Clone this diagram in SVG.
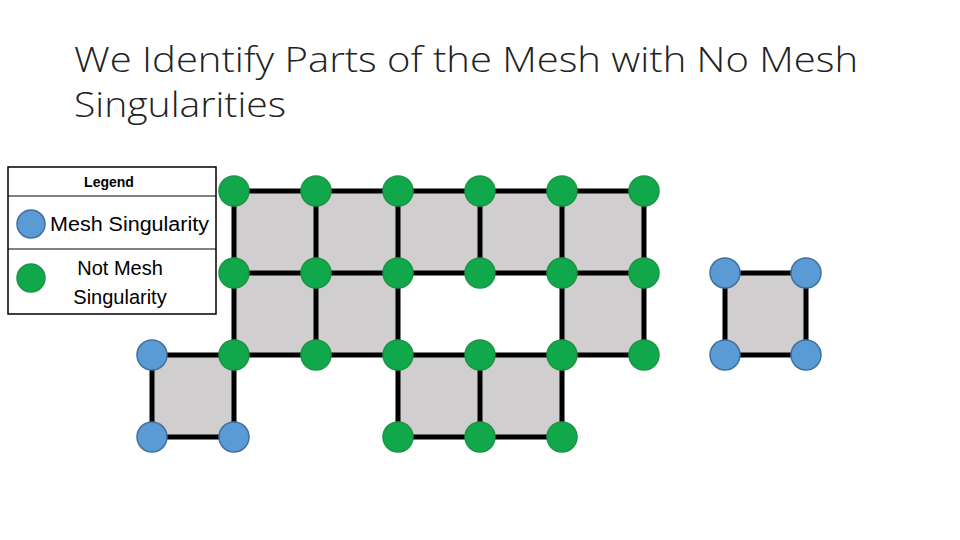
<svg xmlns="http://www.w3.org/2000/svg" width="960" height="540" viewBox="0 0 960 540">
<style>
.title{font-family:"Open Sans","Liberation Sans",sans-serif;font-weight:300;font-size:35px;fill:#222}
.lt{font-family:"Liberation Sans",sans-serif;fill:#000}
.cell{fill:#D0CECE}
.e{stroke:#000;stroke-width:5;fill:none;stroke-linecap:square}
.g{fill:#10A84A;stroke:#1A9645;stroke-width:1.5}
.b{fill:#5B9BD5;stroke:#41719C;stroke-width:1.5}
</style>
<rect width="960" height="540" fill="#fff"/>
<text class="title" x="74" y="72" textLength="784" lengthAdjust="spacingAndGlyphs">We Identify Parts of the Mesh with No Mesh</text>
<text class="title" x="74" y="117" textLength="212" lengthAdjust="spacingAndGlyphs">Singularities</text>
<g id="legend">
<rect x="8" y="167" width="208" height="147" fill="#fff" stroke="#000" stroke-width="1.5"/>
<line x1="8" y1="196" x2="216" y2="196" stroke="#000" stroke-width="1"/>
<line x1="8" y1="249" x2="216" y2="249" stroke="#000" stroke-width="1"/>
<text class="lt" x="109" y="187" font-size="14" font-weight="bold" text-anchor="middle">Legend</text>
<circle class="b" cx="31" cy="224" r="14"/>
<text class="lt" x="50" y="231" font-size="20" textLength="159" lengthAdjust="spacingAndGlyphs">Mesh Singularity</text>
<circle class="g" cx="31" cy="278" r="14"/>
<text class="lt" x="120" y="275" font-size="20" text-anchor="middle">Not Mesh</text>
<text class="lt" x="120" y="304" font-size="20" text-anchor="middle">Singularity</text>
</g>
<g id="cells">
<rect class="cell" x="234" y="191" width="410" height="82"/>
<rect class="cell" x="234" y="273" width="164" height="82"/>
<rect class="cell" x="562" y="273" width="82" height="82"/>
<rect class="cell" x="152" y="355" width="82" height="82"/>
<rect class="cell" x="398" y="355" width="164" height="82"/>
<rect class="cell" x="725" y="273" width="81" height="82"/>
</g>
<g id="connectors" class="e">
<line x1="234" y1="191" x2="644" y2="191"/>
<line x1="234" y1="273" x2="644" y2="273"/>
<line x1="152" y1="355" x2="644" y2="355"/>
<line x1="152" y1="437" x2="234" y2="437"/>
<line x1="398" y1="437" x2="562" y2="437"/>
<line x1="152" y1="355" x2="152" y2="437"/>
<line x1="234" y1="191" x2="234" y2="437"/>
<line x1="316" y1="191" x2="316" y2="355"/>
<line x1="398" y1="191" x2="398" y2="437"/>
<line x1="480" y1="191" x2="480" y2="273"/>
<line x1="480" y1="355" x2="480" y2="437"/>
<line x1="562" y1="191" x2="562" y2="437"/>
<line x1="644" y1="191" x2="644" y2="355"/>
<rect x="725" y="273" width="81" height="82"/>
</g>
<g id="nodes-green">
<circle id="n1" class="g" cx="234" cy="191" r="15"/>
<circle id="n2" class="g" cx="316" cy="191" r="15"/>
<circle id="n3" class="g" cx="398" cy="191" r="15"/>
<circle id="n4" class="g" cx="480" cy="191" r="15"/>
<circle id="n5" class="g" cx="562" cy="191" r="15"/>
<circle id="n6" class="g" cx="644" cy="191" r="15"/>
<circle id="n7" class="g" cx="234" cy="273" r="15"/>
<circle id="n8" class="g" cx="316" cy="273" r="15"/>
<circle id="n9" class="g" cx="398" cy="273" r="15"/>
<circle id="n10" class="g" cx="480" cy="273" r="15"/>
<circle id="n11" class="g" cx="562" cy="273" r="15"/>
<circle id="n12" class="g" cx="644" cy="273" r="15"/>
<circle id="n13" class="g" cx="234" cy="355" r="15"/>
<circle id="n14" class="g" cx="316" cy="355" r="15"/>
<circle id="n15" class="g" cx="398" cy="355" r="15"/>
<circle id="n16" class="g" cx="480" cy="355" r="15"/>
<circle id="n17" class="g" cx="562" cy="355" r="15"/>
<circle id="n18" class="g" cx="644" cy="355" r="15"/>
<circle id="n19" class="g" cx="398" cy="437" r="15"/>
<circle id="n20" class="g" cx="480" cy="437" r="15"/>
<circle id="n21" class="g" cx="562" cy="437" r="15"/>
</g>
<g id="nodes-blue">
<circle id="b1" class="b" cx="152" cy="355" r="15"/>
<circle id="b2" class="b" cx="152" cy="437" r="15"/>
<circle id="b3" class="b" cx="234" cy="437" r="15"/>
<circle id="b4" class="b" cx="725" cy="273" r="15"/>
<circle id="b5" class="b" cx="806" cy="273" r="15"/>
<circle id="b6" class="b" cx="725" cy="355" r="15"/>
<circle id="b7" class="b" cx="806" cy="355" r="15"/>
</g>
</svg>
